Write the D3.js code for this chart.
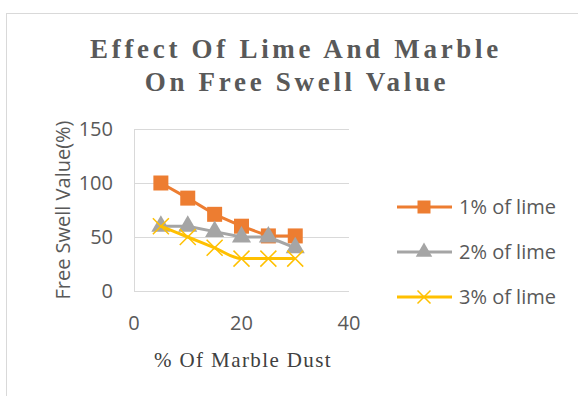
<html>
<head>
  <script src="https://d3js.org/d3.v7.min.js"></script>
  <style>
    body { margin: 0; background: white; }
  </style>
</head>
<body>
  <svg id="chart" width="578" height="396"></svg>
  <script>
    // data
    const marbleDust = [5, 10, 15, 20, 25, 30];
    const lime1 = [100, 86, 71, 60, 51, 51];
    const lime2 = [60, 60, 55, 50, 50, 40];
    const lime3 = [60, 50, 40, 30, 30, 30];
    const seriesNames = ["1% of lime", "2% of lime", "3% of lime"];
    const seriesColors = ["#ED7D31", "#A5A5A5", "#FFC000"];
    const xTicks = [0, 20, 40];
    const yTicks = [0, 50, 100, 150];

    const svg = d3.select("svg#chart");

    // chart border
    svg.append("rect")
      .attr("x", 6.5).attr("y", 13.5)
      .attr("width", 580).attr("height", 400)
      .style("fill", "white")
      .style("stroke", "#d9d9d9");

    const xScale = d3.scaleLinear().domain([0, 40]).range([134, 349]);
    const yScale = d3.scaleLinear().domain([0, 150]).range([291, 129]);

    // gridlines
    yTicks.forEach(t => {
      svg.append("line")
        .attr("x1", xScale(0)).attr("x2", xScale(40))
        .attr("y1", yScale(t) + 0.5).attr("y2", yScale(t) + 0.5)
        .style("stroke", "#d9d9d9")
        .style("stroke-width", 1);
    });
    svg.append("line")
      .attr("x1", xScale(0) + 0.5).attr("x2", xScale(0) + 0.5)
      .attr("y1", yScale(0)).attr("y2", yScale(150))
      .style("stroke", "#d9d9d9");

    // tick labels
    yTicks.forEach(t => {
      svg.append("text")
        .attr("x", 113).attr("y", yScale(t))
        .attr("dy", "0.36em")
        .attr("text-anchor", "end")
        .style("font-family", "'Open Sans', sans-serif")
        .style("font-size", "20px")
        .style("fill", "#595959")
        .text(t);
    });
    xTicks.forEach(t => {
      svg.append("text")
        .attr("x", xScale(t)).attr("y", 330)
        .attr("text-anchor", "middle")
        .style("font-family", "'Open Sans', sans-serif")
        .style("font-size", "20px")
        .style("fill", "#595959")
        .text(t);
    });

    // titles
    const title = svg.append("text")
      .attr("text-anchor", "middle")
      .style("font-family", "'Liberation Serif', serif")
      .style("font-weight", "bold")
      .style("font-size", "27px")
      .style("letter-spacing", "3.7px")
      .style("fill", "#595959");
    title.append("tspan").attr("x", 296).attr("y", 58).text("Effect Of Lime And Marble");
    title.append("tspan").attr("x", 297).attr("y", 91).text("On Free Swell Value");

    svg.append("text")
      .attr("x", 243).attr("y", 367)
      .attr("text-anchor", "middle")
      .style("font-family", "'Liberation Serif', serif")
      .style("font-size", "21px")
      .style("letter-spacing", "1.4px")
      .style("fill", "#404040")
      .text("% Of Marble Dust");

    svg.append("text")
      .attr("transform", "translate(70,210) rotate(-90)")
      .attr("text-anchor", "middle")
      .style("font-family", "'Open Sans', sans-serif")
      .style("font-size", "20px")
      .style("fill", "#595959")
      .text("Free Swell Value(%)");

    const allSeries = [lime1, lime2, lime3];
    const curves = [d3.curveLinear, d3.curveLinear, d3.curveMonotoneX];
    const symbols = [d3.symbolSquare, d3.symbolTriangle, d3.symbolCross];

    function drawMarker(g, i, cx, cy, size) {
      if (i === 2) {
        const h = size / 2;
        g.append("path")
          .attr("d", `M${cx - h},${cy - h}L${cx + h},${cy + h}M${cx - h},${cy + h}L${cx + h},${cy - h}`)
          .style("stroke", seriesColors[i])
          .style("stroke-width", 1.5)
          .style("fill", "none");
      } else {
        const area = i === 0 ? size * size : size * size * 0.7;
        g.append("path")
          .attr("transform", `translate(${cx},${cy})`)
          .attr("d", d3.symbol().type(symbols[i]).size(area)())
          .style("fill", seriesColors[i]);
      }
    }

    allSeries.forEach((vals, i) => {
      const pts = marbleDust.map((x, j) => [xScale(x), yScale(vals[j])]);
      const line = d3.line().curve(curves[i]);
      svg.append("path")
        .attr("d", line(pts))
        .style("fill", "none")
        .style("stroke", seriesColors[i])
        .style("stroke-width", 3)
        .style("stroke-linejoin", "round");
      const g = svg.append("g");
      pts.forEach(p => drawMarker(g, i, p[0], p[1], i === 2 ? 16 : 15));
    });

    // legend
    const legendY = [207, 252, 297];
    seriesNames.forEach((name, i) => {
      svg.append("line")
        .attr("x1", 397).attr("x2", 452)
        .attr("y1", legendY[i]).attr("y2", legendY[i])
        .style("stroke", seriesColors[i])
        .style("stroke-width", 3);
      const g = svg.append("g");
      drawMarker(g, i, 424, legendY[i], 13);
      svg.append("text")
        .attr("x", 459).attr("y", legendY[i])
        .attr("dy", "0.36em")
        .style("font-family", "'Open Sans', sans-serif")
        .style("font-size", "20px")
        .style("fill", "#595959")
        .text(name);
    });
  </script>
</body>
</html>
